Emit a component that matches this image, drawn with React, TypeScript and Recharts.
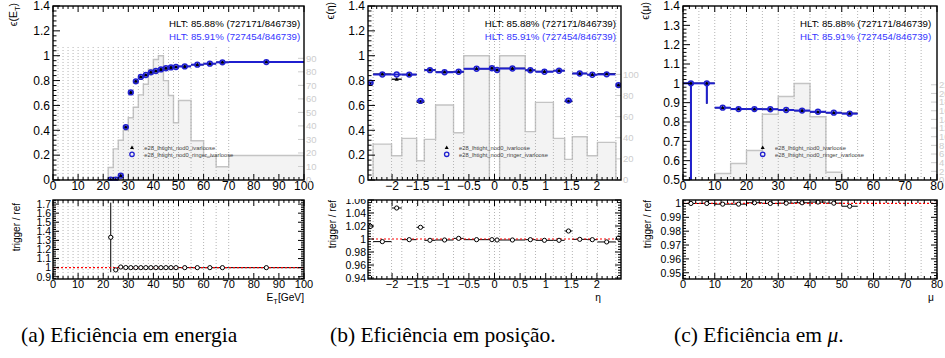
import React from 'react';
import { ComposedChart, XAxis, YAxis, Scatter, Area, ErrorBar, ReferenceLine } from 'recharts';

// ---------------- (a) efficiency vs E_T ----------------
const etBinEdges = [22, 24, 26, 28, 30, 32, 34, 36, 38, 40, 42, 44, 46, 48, 50, 55, 60, 65, 70, 100];
const etEffRinger = [0.002, 0.002, 0.035, 0.426, 0.705, 0.794, 0.829, 0.845, 0.866, 0.877, 0.89, 0.899, 0.906, 0.909, 0.914, 0.928, 0.936, 0.947, 0.949];
const etEffRef = [0.0015, 0.002, 0.035, 0.425, 0.705, 0.794, 0.829, 0.845, 0.866, 0.877, 0.89, 0.899, 0.906, 0.909, 0.914, 0.928, 0.936, 0.947, 0.949];
const etRatio = [1.334, 0.975, 1.007, 1.001, 1.0, 1.0, 1.0, 1.0, 1.0, 1.0, 1.0, 1.0, 1.0, 1.0, 1.0, 1.0, 1.0, 1.0, 1.0];
const etRatioErrDown = [0.384, 0.006, 0.003, 0.001, 0, 0, 0, 0, 0, 0, 0, 0, 0, 0, 0, 0, 0, 0, 0];
const etRatioErrUp = [0.382, 0.006, 0.003, 0.001, 0, 0, 0, 0, 0, 0, 0, 0, 0, 0, 0, 0, 0, 0, 0];
const etHistCounts = [9.2, 23, 29.4, 36.8, 46, 53.8, 63, 70.8, 81.8, 89.1, 91.9, 73.5, 62.5, 42.3, 58.8, 29, 17.5, 9.8, 18.1];
const etGridLines = [2, 4, 6, 8, 10, 12, 14, 16, 18, 20, 22, 24, 26, 28, 30, 32, 34, 36, 38, 40, 42, 44, 46, 48, 50, 55, 60, 65, 70];
const etXTicks = [0, 10, 20, 30, 40, 50, 60, 70, 80, 90, 100];
const etHistAxisTicks = [0, 10, 20, 30, 40, 50, 60, 70, 80, 90];
const etRatioYTicks = [0.9, 1, 1.1, 1.2, 1.3, 1.4, 1.5, 1.6, 1.7];
const effYTicks = [0, 0.2, 0.4, 0.6, 0.8, 1, 1.2, 1.4];

// ---------------- (b) efficiency vs eta ----------------
const etaBinEdges = [-2.47, -2.37, -2.01, -1.81, -1.52, -1.37, -1.15, -0.8, -0.6, -0.1, 0, 0.1, 0.6, 0.8, 1.15, 1.37, 1.52, 1.81, 2.01, 2.37, 2.47];
const etaEffRinger = [0.784, 0.849, 0.849, 0.848, 0.637, 0.884, 0.867, 0.871, 0.895, 0.899, 0.885, 0.897, 0.883, 0.871, 0.879, 0.639, 0.857, 0.847, 0.85, 0.764];
const etaEffRef = [0.768, 0.852, 0.811, 0.849, 0.626, 0.886, 0.869, 0.87, 0.896, 0.9, 0.886, 0.898, 0.884, 0.873, 0.881, 0.631, 0.857, 0.848, 0.854, 0.763];
const etaRatio = [1.0195, 0.996, 1.0477, 0.999, 1.018, 0.998, 0.9985, 1.001, 0.999, 0.999, 0.9985, 0.9985, 0.999, 0.998, 0.998, 1.0123, 0.9995, 0.999, 0.9955, 1.0015];
const etaHistEdges = [-2.37, -2.01, -1.81, -1.52, -1.37, -1.15, -0.8, -0.6, -0.1, 0, 0.1, 0.6, 0.8, 1.15, 1.37, 1.52, 1.81, 2.01, 2.37];
const etaHistCounts = [34, 23, 39.4, 18.2, 38.5, 71, 44.7, 117.6, 0, 0, 117.6, 45.8, 73.5, 39.4, 19.5, 41, 23, 35.6];
const etaGridLines = [-2.37, -2.01, -1.81, -1.52, -1.37, -1.15, -0.8, -0.6, -0.1, 0, 0.1, 0.6, 0.8, 1.15, 1.37, 1.52, 1.81, 2.01, 2.37];
const etaXTicks = [-2, -1.5, -1, -0.5, 0, 0.5, 1, 1.5, 2];
const etaHistAxisTicks = [0, 20, 40, 60, 80, 100];
const etaRatioYTicks = [0.94, 0.96, 0.98, 1, 1.02, 1.04, 1.06];

// ---------------- (c) efficiency vs mu ----------------
const muBinEdges = [0, 5, 10, 15, 20, 25, 30, 35, 40, 45, 50, 55];
const muEffRinger = [1.0, 1.0, 0.874, 0.867, 0.867, 0.866, 0.862, 0.859, 0.853, 0.848, 0.843];
const muEffRef = [1.0, 1.0, 0.874, 0.867, 0.866, 0.866, 0.862, 0.859, 0.852, 0.848, 0.845];
const muEffErrDown = [0.5, 0.105, 0.004, 0.003, 0.003, 0.003, 0.003, 0.003, 0.003, 0.003, 0.004];
const muEffErrUp = [0, 0, 0.004, 0.003, 0.003, 0.003, 0.003, 0.003, 0.003, 0.003, 0.004];
const muRatio = [1.0, 1.0, 0.9995, 0.9995, 1.0005, 1.0, 1.0002, 1.0005, 1.001, 1.0002, 0.998];
const muHistEdges = [10, 15, 20, 25, 30, 35, 40, 45, 50, 55];
const muHistCounts = [1.5, 3.8, 6.8, 15.2, 19.3, 22.3, 14.6, 1.8, 0.13];
const muGridLines = [5, 10, 15, 20, 25, 30, 35, 40, 45, 50, 55, 60, 65, 70, 75];
const muXTicks = [0, 10, 20, 30, 40, 50, 60, 70, 80];
const muEffYTicks = [0.5, 0.6, 0.7, 0.8, 0.9, 1, 1.1, 1.2, 1.3, 1.4];
const muHistAxisTicks = [0, 2, 4, 6, 8, 10, 12, 14, 16, 18, 20, 22];
const muRatioYTicks = [0.95, 0.96, 0.97, 0.98, 0.99, 1];

// ---------------- texts ----------------
const hltRefText = 'HLT: 85.88% (727171/846739)';
const hltRingerText = 'HLT: 85.91% (727454/846739)';
const legendRef = 'e28_lhtight_nod0_ivarloose';
const legendRinger = 'e28_lhtight_nod0_ringer_ivarloose';

const FONT = '"Liberation Sans", Arial, Helvetica, sans-serif';
const SERIF = '"Liberation Serif", "Times New Roman", serif';
const BLUE = '#1f1fcf';
const HIST_FILL = '#f3f3f3';
const HIST_LINE = '#c4c4c4';
const GRID = '#b4b4b4';
const RIGHT_AXIS = '#cdcdcd';

function binPoints(edges: number[], ys: number[], down?: number[], up?: number[]) {
  return ys.map((y, i) => {
    const lo = edges[i];
    const hi = edges[i + 1];
    const x = (lo + hi) / 2;
    return { x, y, ex: [x - lo, hi - x], ey: [down ? down[i] : 0, up ? up[i] : 0] };
  });
}

function histSteps(edges: number[], counts: number[]) {
  const pts = [{ x: edges[0], h: 0 }];
  counts.forEach((c, i) => pts.push({ x: edges[i], h: c }));
  pts.push({ x: edges[edges.length - 1], h: counts[counts.length - 1] });
  pts.push({ x: edges[edges.length - 1], h: 0 });
  return pts;
}

function mergeTicks(domain: number[], major: number[], step: number) {
  const out: number[] = [];
  const start = Math.ceil(domain[0] / step - 1e-6);
  for (let i = start; i * step <= domain[1] + 1e-9; i++) out.push(Math.round(i * step * 1e6) / 1e6);
  major.forEach((m) => {
    if (!out.some((v) => Math.abs(v - m) < 1e-6)) out.push(m);
  });
  return out.sort((a, b) => a - b);
}

const isIn = (v: number, arr: number[]) => arr.some((m) => Math.abs(m - v) < 1e-6);
const fmt = (v: number) => String(Math.round(v * 1000) / 1000).replace('-', '\u2212');

const BlueCircle = (p: any) => (
  <circle cx={p.cx} cy={p.cy} r={2.4} fill="none" stroke={BLUE} strokeWidth={1.5} />
);
const BlackTri = (p: any) => (
  <path d={`M${p.cx},${p.cy - 2.3}L${p.cx + 2.1},${p.cy + 1.5}L${p.cx - 2.1},${p.cy + 1.5}Z`} fill="#000" />
);
const RatioCircle = (p: any) => (
  <circle cx={p.cx} cy={p.cy} r={2.1} fill="#fff" stroke="#000" strokeWidth={1} />
);

type PadCfg = {
  x0: number; x1: number; y0: number; y1: number; tm: number; bh: number;
  xDomain: [number, number]; yDomain: [number, number];
  xMajor: number[]; xMinorStep: number; yMajor: number[]; yMinorStep: number;
  labelSize: number; yLabelSize: number; xLabelDy: number; yLabelGap: number;
  xLen: [number, number]; yLen: [number, number];
  mirrorY: boolean;
  right?: { domain: [number, number]; ticks: number[] };
};

const LW = 52;
const RW = 30;

function Pad({ cfg, children }: { cfg: PadCfg; children: React.ReactNode }) {
  const pw = cfg.x1 - cfg.x0;
  const ph = cfg.y1 - cfg.y0;
  const width = LW + pw + RW;
  const height = cfg.tm + ph + cfg.bh;
  const xTicks = mergeTicks(cfg.xDomain, cfg.xMajor, cfg.xMinorStep);
  const yTicks = mergeTicks(cfg.yDomain, cfg.yMajor, cfg.yMinorStep);

  const xTick = (p: any) => {
    const v = p.payload.value;
    const major = isIn(v, cfg.xMajor);
    const len = major ? cfg.xLen[0] : cfg.xLen[1];
    return (
      <g>
        <line x1={p.x} x2={p.x} y1={p.y} y2={p.y - len} stroke="#000" strokeWidth={1} />
        <line x1={p.x} x2={p.x} y1={cfg.tm} y2={cfg.tm + len} stroke="#000" strokeWidth={1} />
        {major ? (
          <text x={p.x} y={p.y + cfg.xLabelDy} textAnchor="middle" fontSize={cfg.labelSize} fontFamily={FONT} fill="#000">
            {fmt(v)}
          </text>
        ) : null}
      </g>
    );
  };

  const yTick = (p: any) => {
    const v = p.payload.value;
    const major = isIn(v, cfg.yMajor);
    const len = major ? cfg.yLen[0] : cfg.yLen[1];
    const xr = p.x + pw;
    return (
      <g>
        <line x1={p.x} x2={p.x + len} y1={p.y} y2={p.y} stroke="#000" strokeWidth={1} />
        {cfg.mirrorY ? <line x1={xr} x2={xr - len} y1={p.y} y2={p.y} stroke="#000" strokeWidth={1} /> : null}
        {major ? (
          <text x={p.x - cfg.yLabelGap} y={p.y + cfg.yLabelSize * 0.36} textAnchor="end" fontSize={cfg.yLabelSize} fontFamily={FONT} fill="#000">
            {fmt(v)}
          </text>
        ) : null}
      </g>
    );
  };

  const rTick = (p: any) => (
    <g>
      <line x1={p.x} x2={p.x - 6} y1={p.y} y2={p.y} stroke={RIGHT_AXIS} strokeWidth={1} />
      <text x={p.x + 2} y={p.y + 3.4} textAnchor="start" fontSize={9.5} fontFamily={FONT} fill={RIGHT_AXIS}>
        {fmt(p.payload.value)}
      </text>
    </g>
  );

  return (
    <div style={{ position: 'absolute', left: cfg.x0 - LW, top: cfg.y0 - cfg.tm, width, height }}>
      <ComposedChart width={width} height={height} margin={{ top: cfg.tm, right: cfg.right ? 0 : RW, bottom: 0, left: 0 }}>
        <XAxis dataKey="x" type="number" domain={cfg.xDomain} ticks={xTicks} interval={0} allowDataOverflow
          axisLine={false} tickLine={false} tickSize={0} tickMargin={0} height={cfg.bh} tick={xTick} />
        <YAxis type="number" domain={cfg.yDomain} ticks={yTicks} interval={0} allowDataOverflow
          axisLine={false} tickLine={false} tickSize={0} tickMargin={0} width={LW} tick={yTick} />
        {cfg.right ? (
          <YAxis yAxisId="h" orientation="right" type="number" domain={cfg.right.domain} ticks={cfg.right.ticks}
            interval={0} allowDataOverflow axisLine={false} tickLine={false} tickSize={0} tickMargin={0} width={RW} tick={rTick} />
        ) : null}
        {children}
      </ComposedChart>
    </div>
  );
}

function Hist({ edges, counts }: { edges: number[]; counts: number[] }) {
  return (
    <Area data={histSteps(edges, counts)} dataKey="h" yAxisId="h" type="stepAfter" stroke={HIST_LINE} strokeWidth={1.4}
      fill={HIST_FILL} fillOpacity={1} dot={false} activeDot={false} isAnimationActive={false} />
  );
}

function EffSeries({ ref, ringer }: { ref: any[]; ringer: any[] }) {
  return (
    <>
      <Scatter data={ref} dataKey="y" shape={BlackTri} isAnimationActive={false}>
        <ErrorBar dataKey="ex" direction="x" width={0} stroke="#000" strokeWidth={1.3} />
        <ErrorBar dataKey="ey" direction="y" width={0} stroke="#000" strokeWidth={1.3} />
      </Scatter>
      <Scatter data={ringer} dataKey="y" shape={BlueCircle} isAnimationActive={false}>
        <ErrorBar dataKey="ex" direction="x" width={0} stroke={BLUE} strokeWidth={2} />
        <ErrorBar dataKey="ey" direction="y" width={0} stroke={BLUE} strokeWidth={2} />
      </Scatter>
    </>
  );
}

function RatioSeries({ pts }: { pts: any[] }) {
  return (
    <Scatter data={pts} dataKey="y" shape={RatioCircle} isAnimationActive={false}>
      <ErrorBar dataKey="ex" direction="x" width={0} stroke="#000" strokeWidth={1} />
      <ErrorBar dataKey="ey" direction="y" width={0} stroke="#000" strokeWidth={1} />
    </Scatter>
  );
}

const topBase = { y0: 6, y1: 180, tm: 6, bh: 16, labelSize: 12, yLabelSize: 12, xLabelDy: 10.4, yLabelGap: 3, xLen: [6, 3] as [number, number], yLen: [7, 3.5] as [number, number], mirrorY: false };
const botBase = { y0: 200, y1: 279, tm: 1, bh: 14, labelSize: 11, yLabelSize: 10.5, xLabelDy: 9.2, yLabelGap: 2, xLen: [6, 3] as [number, number], yLen: [6, 3] as [number, number], mirrorY: true };

const padAT: PadCfg = { ...topBase, x0: 53, x1: 304, xDomain: [0, 100], yDomain: [0, 1.4], xMajor: etXTicks, xMinorStep: 2, yMajor: effYTicks, yMinorStep: 0.04, right: { domain: [0, 128.7], ticks: etHistAxisTicks } };
const padAB: PadCfg = { ...botBase, x0: 53, x1: 304, xDomain: [0, 100], yDomain: [0.875, 1.745], xMajor: etXTicks, xMinorStep: 2, yMajor: etRatioYTicks, yMinorStep: 0.02 };
const padBT: PadCfg = { ...topBase, x0: 368, x1: 621, xDomain: [-2.47, 2.47], yDomain: [0, 1.4], xMajor: etaXTicks, xMinorStep: 0.1, yMajor: effYTicks, yMinorStep: 0.04, right: { domain: [0, 164.7], ticks: etaHistAxisTicks } };
const padBB: PadCfg = { ...botBase, x0: 368, x1: 621, xDomain: [-2.47, 2.47], yDomain: [0.9385, 1.06], xMajor: etaXTicks, xMinorStep: 0.1, yMajor: etaRatioYTicks, yMinorStep: 0.004 };
const padCT: PadCfg = { ...topBase, x0: 683, x1: 937, xDomain: [0, 80], yDomain: [0.5, 1.4], xMajor: muXTicks, xMinorStep: 2, yMajor: muEffYTicks, yMinorStep: 0.02, right: { domain: [0, 40.2], ticks: muHistAxisTicks } };
const padCB: PadCfg = { ...botBase, x0: 683, x1: 937, xDomain: [0, 80], yDomain: [0.9455, 1.0025], xMajor: muXTicks, xMinorStep: 2, yMajor: muRatioYTicks, yMinorStep: 0.002 };

const gridStyle = { stroke: GRID, strokeDasharray: '1 2', strokeWidth: 1 };

function Frame({ c }: { c: PadCfg }) {
  return <rect x={c.x0} y={c.y0} width={c.x1 - c.x0} height={c.y1 - c.y0} fill="none" stroke="#000" strokeWidth={1.4} />;
}

function HltBox({ x }: { x: number }) {
  return (
    <g fontFamily={FONT} fontSize={9.7}>
      <text x={x} y={26.8} fill="#000">{hltRefText}</text>
      <text x={x} y={39.5} fill="#3636ff">{hltRingerText}</text>
    </g>
  );
}

function LegendBox({ x }: { x: number }) {
  return (
    <g fontFamily={FONT} fontSize={5.8} fill="#444">
      <path d={`M${x},${145.4}L${x + 2},${149}L${x - 2},${149}Z`} fill="#000" />
      <circle cx={x} cy={154.3} r={2.2} fill="none" stroke={BLUE} strokeWidth={1.3} />
      <text x={x + 12.3} y={149.6}>{legendRef}</text>
      <text x={x + 12.3} y={156.6}>{legendRinger}</text>
    </g>
  );
}

function RotTitle({ x, y, size, children }: { x: number; y: number; size: number; children: React.ReactNode }) {
  return (
    <text transform={`translate(${x},${y}) rotate(-90)`} textAnchor="end" fontSize={size} fontFamily={FONT} fill="#000">
      {children}
    </text>
  );
}

export default function App() {
  const etRef = binPoints(etBinEdges, etEffRef);
  const etRinger = binPoints(etBinEdges, etEffRinger);
  const etRatioPts = binPoints(etBinEdges, etRatio, etRatioErrDown, etRatioErrUp);
  const etaRef = binPoints(etaBinEdges, etaEffRef);
  const etaRinger = binPoints(etaBinEdges, etaEffRinger);
  const etaRatioPts = binPoints(etaBinEdges, etaRatio);
  const muRef = binPoints(muBinEdges, muEffRef, muEffErrDown, muEffErrUp);
  const muRinger = binPoints(muBinEdges, muEffRinger, muEffErrDown, muEffErrUp);
  const muRatioPts = binPoints(muBinEdges, muRatio);

  return (
    <div style={{ position: 'absolute', left: 0, top: 0, width: 945, height: 358, background: '#fff', overflow: 'hidden' }}>
      {/* (a) top */}
      <Pad cfg={padAT}>
        <Hist edges={etBinEdges} counts={etHistCounts} />
        {etGridLines.map((g) => (
          <ReferenceLine key={'ag' + g} segment={[{ x: g, y: 0 }, { x: g, y: 1.086 }]} {...gridStyle} />
        ))}
        <EffSeries ref={etRef} ringer={etRinger} />
      </Pad>
      {/* (a) bottom */}
      <Pad cfg={padAB}>
        {etGridLines.map((g) => (
          <ReferenceLine key={'agb' + g} x={g} {...gridStyle} />
        ))}
        <RatioSeries pts={etRatioPts} />
        <ReferenceLine y={1} stroke="#ff0000" strokeDasharray="2 2" strokeWidth={1.2} />
      </Pad>
      {/* (b) top */}
      <Pad cfg={padBT}>
        <Hist edges={etaHistEdges} counts={etaHistCounts} />
        {etaGridLines.map((g) => (
          <ReferenceLine key={'bg' + g} x={g} {...gridStyle} />
        ))}
        <EffSeries ref={etaRef} ringer={etaRinger} />
      </Pad>
      {/* (b) bottom */}
      <Pad cfg={padBB}>
        {etaGridLines.map((g) => (
          <ReferenceLine key={'bgb' + g} x={g} {...gridStyle} />
        ))}
        <RatioSeries pts={etaRatioPts} />
        <ReferenceLine y={1} stroke="#ff0000" strokeDasharray="2 2" strokeWidth={1.2} />
      </Pad>
      {/* (c) top */}
      <Pad cfg={padCT}>
        <Hist edges={muHistEdges} counts={muHistCounts} />
        {muGridLines.map((g) => (
          <ReferenceLine key={'cg' + g} x={g} {...gridStyle} />
        ))}
        <EffSeries ref={muRef} ringer={muRinger} />
      </Pad>
      {/* (c) bottom */}
      <Pad cfg={padCB}>
        {muGridLines.map((g) => (
          <ReferenceLine key={'cgb' + g} x={g} {...gridStyle} />
        ))}
        <RatioSeries pts={muRatioPts} />
        <ReferenceLine y={1} stroke="#ff0000" strokeDasharray="2 2" strokeWidth={1.2} />
      </Pad>

      <svg width={945} height={358} style={{ position: 'absolute', left: 0, top: 0, pointerEvents: 'none' }}>
        <Frame c={padAT} />
        <Frame c={padAB} />
        <Frame c={padBT} />
        <Frame c={padBB} />
        <Frame c={padCT} />
        <Frame c={padCB} />

        <HltBox x={169} />
        <HltBox x={484.7} />
        <HltBox x={800} />
        <LegendBox x={132} />
        <LegendBox x={446.7} />
        <LegendBox x={762.7} />

        <RotTitle x={17} y={3} size={10.5}>
          {'\u03F5(E'}<tspan dy={2.5} fontSize={7.5}>T</tspan><tspan dy={-2.5}>)</tspan>
        </RotTitle>
        <RotTitle x={334} y={2} size={10.5}>{'\u03F5(\u03B7)'}</RotTitle>
        <RotTitle x={649} y={2} size={10.5}>{'\u03F5(\u03BC)'}</RotTitle>
        <RotTitle x={20} y={203} size={10}>trigger / ref</RotTitle>
        <RotTitle x={336} y={200} size={10}>trigger / ref</RotTitle>
        <RotTitle x={651} y={200} size={10}>trigger / ref</RotTitle>

        <text x={304} y={301} textAnchor="end" fontSize={10.2} fontFamily={FONT}>
          E<tspan dy={2.5} fontSize={7.5}>T</tspan><tspan dy={-2.5}>[GeV]</tspan>
        </text>
        <text x={598} y={301} textAnchor="middle" fontSize={10.2} fontFamily={FONT}>{'\u03B7'}</text>
        <text x={931} y={301} textAnchor="middle" fontSize={10.2} fontFamily={FONT}>{'\u03BC'}</text>

        <g fontFamily={SERIF} fontSize={21.5} fill="#000">
          <text x={21} y={342}>(a) Eficiência em energia</text>
          <text x={330} y={342}>(b) Eficiência em posição.</text>
          <text x={674} y={342}>(c) Eficiência em <tspan fontStyle="italic">μ</tspan>.</text>
        </g>
      </svg>
    </div>
  );
}
